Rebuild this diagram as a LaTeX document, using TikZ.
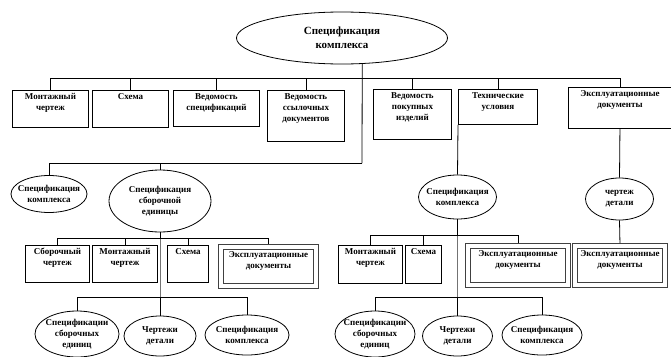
\documentclass[tikz,border=0pt]{standalone}
\usepackage{fontspec}
\setmainfont{Liberation Serif}
\usetikzlibrary{shapes.geometric}

\newcommand{\boxtext}[3]{\parbox[t][#2pt][t]{#1pt}{\centering #3}}

\begin{document}
\begin{tikzpicture}[x=1pt,y=-1pt]
		\tikzset{
			box/.style ={
				rectangle, %прямоугольник
				anchor=north west, %привязка к левому верхнему углу
				inner sep=3pt, %отступ текста от рамки
				line width=0.9pt,
				draw=black,
				font=\fontsize{9}{11}\selectfont\bfseries
			},
			dbox/.style ={
				box,
				inner sep=7pt,
				draw=black!75, %внешняя рамка
				path picture={
					\draw[line width=1.4pt] ([shift={(5pt,5pt)}]path picture bounding box.south west) rectangle ([shift={(-5pt,-5pt)}]path picture bounding box.north east);
				}
			},
			oval/.style ={
				ellipse, %эллипс
				inner sep=-6pt,
				draw=black,
				line width=0.8pt,
				align=center,
				font=\fontsize{9}{11}\selectfont\bfseries
			},
			link/.style ={line width=0.8pt},
			thru/.style ={line width=0.8pt, draw=black!55}
		}
		\useasboundingbox (0,0) rectangle (671,356);
		% верхний уровень
		\node[oval, minimum width=211, minimum height=52, font=\fontsize{11}{14}\selectfont\bfseries] (sk) at (342,38) {Спецификация\\комплекса};
		\node[box] (mch) at (12,90) {\boxtext{70}{31}{Монтажный\\чертеж}};
		\node[box] (sh) at (92,90) {\boxtext{70}{31}{Схема}};
		\node[box] (vs) at (173,90) {\boxtext{80}{30}{Ведомость\\спецификаций}};
		\node[box] (vsd) at (267,90) {\boxtext{71}{45}{Ведомость\\ссылочных\\документов}};
		\node[box] (vpi) at (373,89) {\boxtext{72}{44}{Ведомость\\покупных\\изделий}};
		\node[box] (tu) at (458,89) {\boxtext{73}{29}{Технические\\условия}};
		\node[box] (ed) at (568,87) {\boxtext{97}{35}{Эксплуатационные\\документы}};
		% второй уровень
		\node[oval, minimum width=76, minimum height=37] (sk1) at (49,194) {Спецификация\\комплекса};
		\node[oval, minimum width=102, minimum height=62] (ssb) at (160,201) {Спецификация\\сборочной\\единицы};
		\node[oval, minimum width=78, minimum height=44] (sk2) at (457.5,197) {Спецификация\\комплекса};
		\node[oval, minimum width=68, minimum height=42] (chd) at (619.5,199) {чертеж\\детали};
		% третий уровень
		\node[box] (sch) at (25,245) {\boxtext{58}{31}{Сборочный\\чертеж}};
		\node[box] (mch2) at (92,245) {\boxtext{59}{31}{Монтажный\\чертеж}};
		\node[box] (sh2) at (167,245) {\boxtext{35}{31}{Схема}};
		\node[dbox] (ed2) at (218,244) {\boxtext{86}{30}{Эксплуатационные\\документы}};
		\node[box] (mch3) at (338,245) {\boxtext{58}{32}{Монтажный\\чертеж}};
		\node[box] (sh3) at (405,245) {\boxtext{30}{32}{Схема}};
		\node[dbox] (ed3) at (465,243) {\boxtext{91}{30}{Эксплуатационные\\документы}};
		\node[dbox] (ed4) at (572,243) {\boxtext{81}{30}{Эксплуатационные\\документы}};
		% четвертый уровень
		\node[oval, minimum width=84, minimum height=46] (e1) at (77,334) {Спецификации\\сборочных\\единиц};
		\node[oval, minimum width=72, minimum height=40] (e2) at (160,336) {Чертежи\\детали};
		\node[oval, minimum width=84, minimum height=40] (e3) at (247,335) {Спецификация\\комплекса};
		\node[oval, minimum width=80, minimum height=46] (f1) at (375,334) {Спецификации\\сборочных\\единиц};
		\node[oval, minimum width=70, minimum height=40] (f2) at (457.5,336) {Чертежи\\детали};
		\node[oval, minimum width=80, minimum height=40] (f3) at (542,335) {Спецификация\\комплекса};
		% шины
		\coordinate (j1) at (362,78);
		\coordinate (j2) at (362,163);
		\coordinate (j3) at (160,238);
		\coordinate (j4) at (160,297);
		\coordinate (k3) at (457.5,235);
		\coordinate (k4) at (457.5,297);
		\draw[link] (sk.-52)--(j2);
		\foreach \n in {mch,sh,vs,vsd,vpi,tu,ed}
			\draw[link] (j1)-|(\n.north);
		\draw[link] (j2)-|(sk1.north);
		\draw[link] (j2)-|(ssb.north);
		\draw[link] (ssb.south)--(j3);
		\draw[thru] (j3)--(j4);
		\foreach \n in {sch,mch2,sh2,ed2}
			\draw[link] (j3)-|(\n.north);
		\foreach \n in {e1,e2,e3}
			\draw[link] (j4)-|(\n.north);
		\draw[link] (tu.south west)--(sk2.north);
		\draw[link] (sk2.south)--(k3);
		\draw[thru] (k3)--(k4);
		\foreach \n in {mch3,sh3,ed3}
			\draw[link] (k3)-|(\n.north);
		\foreach \n in {f1,f2,f3}
			\draw[link] (k4)-|(\n.north);
		\draw[link] (ed.south)--(chd.north);
		\draw[link] (chd.south)--(ed4.north);
	\end{tikzpicture}
\end{document}
